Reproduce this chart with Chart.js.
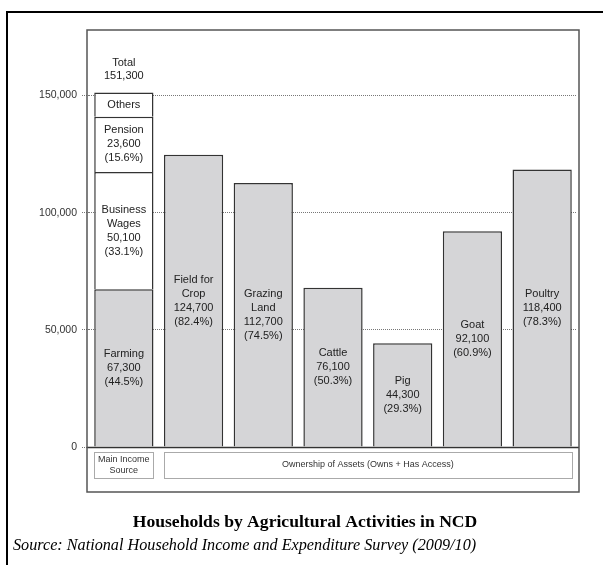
<!DOCTYPE html>
<html>
<head>
<meta charset="utf-8">
<script src="https://cdn.jsdelivr.net/npm/chart.js@4.4.0/dist/chart.umd.min.js"></script>
<style>
html,body{margin:0;padding:0;background:#fff;}
#chart_wrap{width:603px;height:565px;position:relative;}
</style>
</head>
<body>
<div id="chart_wrap"><canvas id="hogares_agricolas" width="603" height="565"></canvas></div>
<script>
var categories = ["Main Income Source", "Field for Crop", "Grazing Land", "Cattle", "Pig", "Goat", "Poultry"];
// grey bars: farming (income) + assets. cattle bar is drawn lower than its label in the source
var gray_values = [67300, 124700, 112700, 68000, 44300, 92100, 118400];
var wages_values = [50100, null, null, null, null, null, null];
var pension_values = [23600, null, null, null, null, null, null];
var others_values = [10300, null, null, null, null, null, null];
var gray_names = [["Farming"], ["Field for", "Crop"], ["Grazing", "Land"], ["Cattle"], ["Pig"], ["Goat"], ["Poultry"]];
var gray_label_values = [67300, 124700, 112700, 76100, 44300, 92100, 118400];
var gray_pct = [44.5, 82.4, 74.5, 50.3, 29.3, 60.9, 78.3];
var wages_label = ["Business", "Wages", "50,100", "(33.1%)"];
var pension_label = ["Pension", "23,600", "(15.6%)"];
var others_label = ["Others"];
var total_label = ["Total", "151,300"];
var y_ticks = [0, 50000, 100000, 150000];
var group_labels = [["Main Income", "Source"], ["Ownership of Assets (Owns + Has Access)"]];
var group_ranges = [[0, 0], [1, 6]];
var chart_title = "Households by Agricultural Activities in NCD";
var chart_source = "Source: National Household Income and Expenditure Survey (2009/10)";

function fmt_num(v){
	return v.toLocaleString("en-US");
}

function sec_hogares_label_lines(ds_index, i){
	if(ds_index==0){
		return gray_names[i].concat([fmt_num(gray_label_values[i]), "(" + gray_pct[i].toFixed(1) + "%)"]);
	}
	if(ds_index==1) return wages_label;
	if(ds_index==2) return pension_label;
	return others_label;
}

function sec_hogares_draw_lines(ctx, lines, x, cy, lh){
	var y0 = cy - (lines.length - 1) * lh / 2;
	for(var k = 0; k < lines.length; k++){
		ctx.fillText(lines[k], x, y0 + k * lh);
	}
}

var hogares_extras = {
	id: "hogares_extras",
	afterDatasetsDraw: function(chart){
		var ctx = chart.ctx;
		var y_scale = chart.scales.y;
		ctx.save();
		// base line
		var y0 = Math.round(y_scale.getPixelForValue(0)) + 0.5;
		ctx.strokeStyle = "#333";
		ctx.lineWidth = 1.5;
		ctx.beginPath();
		ctx.moveTo(87, y0);
		ctx.lineTo(579, y0);
		ctx.stroke();

		// text inside the bars
		ctx.fillStyle = "#222";
		ctx.font = '11px "Liberation Sans", Arial, sans-serif';
		ctx.textAlign = "center";
		ctx.textBaseline = "middle";
		chart.data.datasets.forEach(function(ds, ds_index){
			var meta = chart.getDatasetMeta(ds_index);
			meta.data.forEach(function(el, i){
				if(ds.data[i] === null) return;
				var cy = (el.y + el.base) / 2;
				sec_hogares_draw_lines(ctx, sec_hogares_label_lines(ds_index, i), el.x, cy, 14);
			});
		});
		// total on top of the stacked bar
		var top_el = chart.getDatasetMeta(3).data[0];
		sec_hogares_draw_lines(ctx, total_label, top_el.x, top_el.y - 17 - 6.5, 13);
		ctx.restore();
	},
	afterDraw: function(chart){
		var ctx = chart.ctx;
		var y_scale = chart.scales.y;
		var bars = chart.getDatasetMeta(0).data;
		ctx.save();
		// inner frame
		ctx.strokeStyle = "#555";
		ctx.lineWidth = 1.5;
		ctx.strokeRect(87, 30, 492, 462);

		// group boxes under the axis
		var box_top = y_scale.getPixelForValue(0) + 5;
		ctx.font = '9px "Liberation Sans", Arial, sans-serif';
		ctx.textAlign = "center";
		ctx.textBaseline = "middle";
		group_ranges.forEach(function(r, g){
			var a = bars[r[0]], b = bars[r[1]];
			var x1 = a.x - a.width / 2, x2 = b.x + b.width / 2;
			ctx.strokeStyle = "#aaa";
			ctx.lineWidth = 1;
			ctx.strokeRect(Math.round(x1) + 0.5, Math.round(box_top) + 0.5, Math.round(x2 - x1), 26);
			ctx.fillStyle = "#333";
			sec_hogares_draw_lines(ctx, group_labels[g], (x1 + x2) / 2, box_top + 13, 11);
		});

		// title and source
		ctx.fillStyle = "#000";
		ctx.font = 'bold 17.6px "Liberation Serif", "Times New Roman", serif';
		ctx.textAlign = "center";
		ctx.fillText(chart_title, 305, 522);
		ctx.font = 'italic 16.2px "Liberation Serif", "Times New Roman", serif';
		ctx.textAlign = "left";
		ctx.fillText(chart_source, 13, 546);

		// outer frame
		ctx.strokeStyle = "#000";
		ctx.lineWidth = 2;
		ctx.beginPath();
		ctx.moveTo(7, 565);
		ctx.lineTo(7, 12);
		ctx.lineTo(603, 12);
		ctx.stroke();
		ctx.restore();
	}
};

function sec_hogares_dataset(label, values, color){
	return {
		label: label,
		data: values,
		backgroundColor: color,
		borderColor: "#333",
		borderWidth: 1.5,
		borderSkipped: "start",
		barPercentage: 0.85,
		categoryPercentage: 1
	};
}

function sec_hogares_chart(){
	console.log("sec_hogares_chart");
	var $canvas = document.getElementById("hogares_agricolas");
	new Chart($canvas, {
		type: "bar",
		data: {
			labels: categories,
			datasets: [
				sec_hogares_dataset("Gray", gray_values, "#d5d5d7"),
				sec_hogares_dataset("Business Wages", wages_values, "#ffffff"),
				sec_hogares_dataset("Pension", pension_values, "#ffffff"),
				sec_hogares_dataset("Others", others_values, "#ffffff")
			]
		},
		options: {
			responsive: false,
			animation: false,
			devicePixelRatio: 1,
			layout: { padding: { left: 0, right: 26, top: 30, bottom: 118 } },
			plugins: {
				legend: { display: false },
				tooltip: { enabled: false },
				title: { display: false }
			},
			scales: {
				x: {
					stacked: true,
					display: false
				},
				y: {
					stacked: true,
					min: 0,
					max: 178000,
					afterBuildTicks: function(scale){
						scale.ticks = y_ticks.map(function(v){ return { value: v }; });
					},
					afterFit: function(scale){
						scale.width = 89;
					},
					ticks: {
						padding: 5,
						color: "#333",
						font: { family: '"Liberation Sans", Arial, sans-serif', size: 10.5 },
						callback: function(v){ return fmt_num(v); }
					},
					grid: {
						color: "#777",
						lineWidth: 1,
						tickLength: 7,
						tickColor: "#777",
						tickBorderDash: [1, 1]
					},
					border: {
						display: false,
						dash: [1, 1]
					}
				}
			}
		},
		plugins: [hogares_extras]
	});
}
sec_hogares_chart();
</script>
</body>
</html>
